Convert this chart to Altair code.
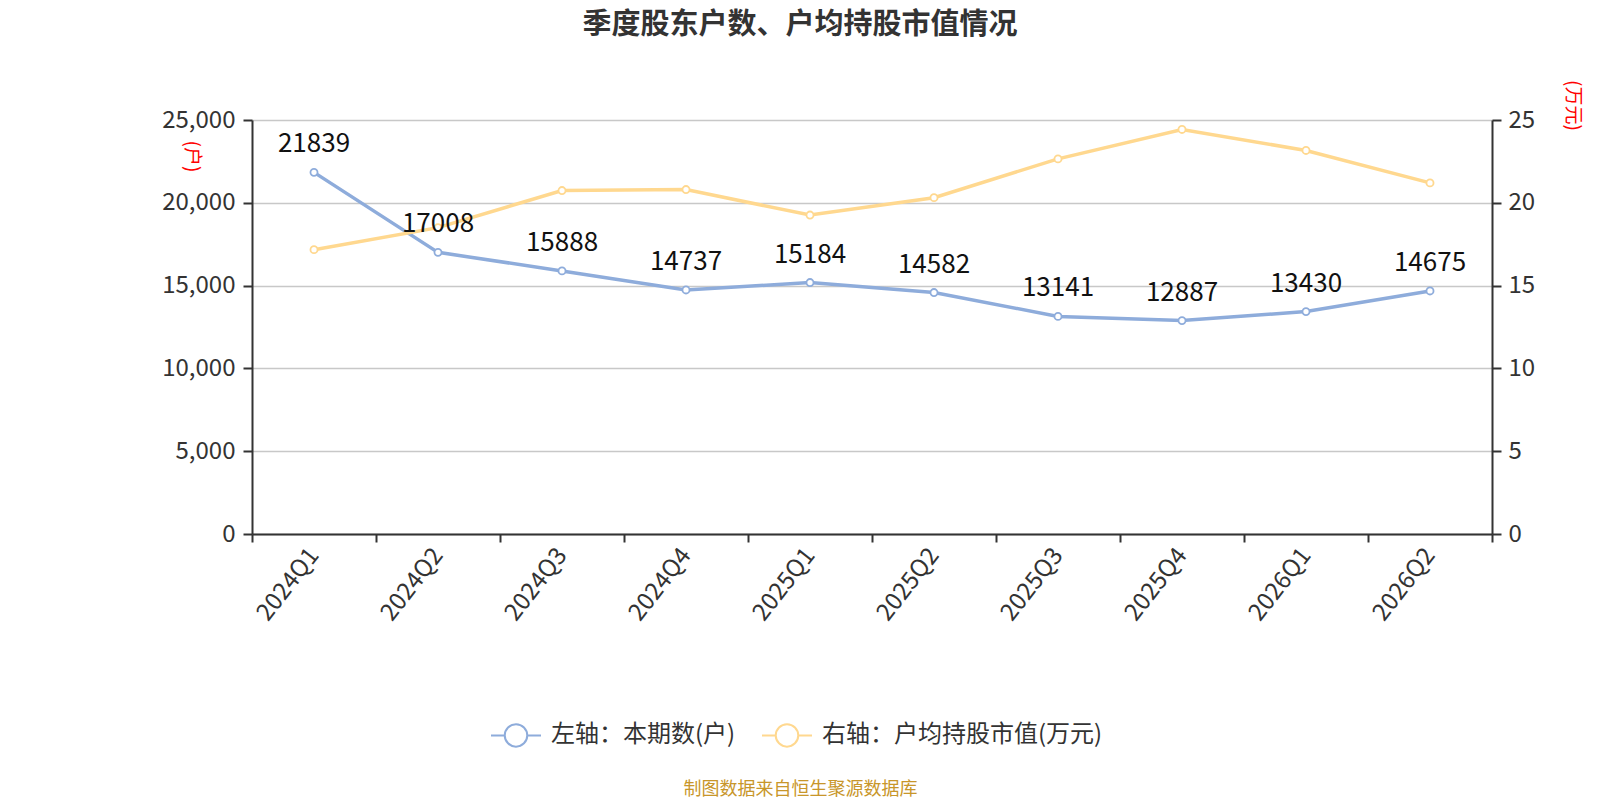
import altair as alt
import pandas as pd

quarters = ["2024Q1", "2024Q2", "2024Q3", "2024Q4", "2025Q1",
            "2025Q2", "2025Q3", "2025Q4", "2026Q1", "2026Q2"]
holders = [21839, 17008, 15888, 14737, 15184, 14582, 13141, 12887, 13430, 14675]
avg_value = [17.17, 18.5, 20.74, 20.8, 19.26, 20.31, 22.65, 24.43, 23.16, 21.2]

name_left = "左轴：本期数(户)"
name_right = "右轴：户均持股市值(万元)"
blue = "#8EACDB"
yellow = "#FFD88F"

df = pd.DataFrame({"q": quarters, "holders": holders, "avg": avg_value})

FONT = "Noto Sans CJK SC"

color_scale = alt.Scale(domain=[name_left, name_right], range=[blue, yellow])
legend = alt.Legend(
    title=None, orient="none", direction="horizontal",
    legendX=238, legendY=589,
    symbolType="M-1,0H-0.45M0.45,0H1M0.45,0A0.45,0.45,0,1,1,-0.45,0A0.45,0.45,0,1,1,0.45,0Z",
    symbolSize=2500, symbolStrokeWidth=2, symbolFillColor="white",
    labelFontSize=24, labelColor="#333", labelFont=FONT, labelOffset=9,
    labelLimit=500, columnPadding=22, padding=0,
)

x_enc = alt.X(
    "q:N", sort=quarters, bandPosition=0.5,
    scale=alt.Scale(type="band", paddingInner=0, paddingOuter=0),
    axis=alt.Axis(
        title="制图数据来自恒生聚源数据库", titleFontSize=18, titleColor="#C8962A",
        titleFontWeight="normal", titleFont=FONT, titleX=548, titleY=255,
        titleAlign="center", titleBaseline="middle", titleAngle=0,
        labelAngle=308, labelAlign="right", labelBaseline="middle",
        labelFontSize=24, labelColor="#333", labelFont=FONT, labelPadding=9,
        tickBand="extent", tickSize=8, tickColor="#333", tickWidth=2,
        domainColor="#333", domainWidth=2, grid=False,
    ),
)

y_left = alt.Y(
    "holders:Q",
    scale=alt.Scale(domain=[0, 25000], nice=False),
    axis=alt.Axis(
        title="(户)", titleColor="red", titleFontSize=19, titleFontWeight="normal",
        titleFont=FONT, titleAngle=90, titleX=-61, titleY=36,
        titleAlign="center", titleBaseline="middle",
        values=[0, 5000, 10000, 15000, 20000, 25000], format=",d",
        labelFontSize=24, labelColor="#333", labelFont=FONT, labelPadding=8,
        tickSize=9, tickColor="#333", tickWidth=2,
        domainColor="#333", domainWidth=2,
        grid=True, gridColor="#C8C8C8", gridWidth=1.5,
    ),
)

y_right = alt.Y(
    "avg:Q",
    scale=alt.Scale(domain=[0, 25], nice=False),
    axis=alt.Axis(
        orient="right",
        title="(万元)", titleColor="red", titleFontSize=19, titleFontWeight="normal",
        titleFont=FONT, titleAngle=90, titleX=80, titleY=-15,
        titleAlign="center", titleBaseline="middle",
        values=[0, 5, 10, 15, 20, 25], format="d",
        labelFontSize=24, labelColor="#333", labelFont=FONT, labelPadding=7,
        tickSize=9, tickColor="#333", tickWidth=2,
        domainColor="#333", domainWidth=2, grid=False,
    ),
)

base_l = alt.Chart(df).transform_calculate(series=f"'{name_left}'")
base_r = alt.Chart(df).transform_calculate(series=f"'{name_right}'")
col = alt.Color("series:N", scale=color_scale, legend=legend)

blue_line = base_l.mark_line(strokeWidth=3.5).encode(x=x_enc, y=y_left, color=col)
blue_pts = base_l.mark_point(filled=False, fill="white", size=50, strokeWidth=1.8, opacity=1).encode(
    x=x_enc, y=y_left, color=col)
left = alt.layer(blue_line, blue_pts)

yellow_line = base_r.mark_line(strokeWidth=3.5).encode(x=x_enc, y=y_right, color=col)
yellow_pts = base_r.mark_point(filled=False, fill="white", size=50, strokeWidth=1.8, opacity=1).encode(
    x=x_enc, y=y_right, color=col)
right = alt.layer(yellow_line, yellow_pts)

labels = alt.Chart(df).mark_text(dy=-28, fontSize=26, color="#111", font=FONT, baseline="middle").encode(
    x=x_enc,
    y=alt.Y("holders:Q", scale=alt.Scale(domain=[0, 25000], nice=False), axis=None),
    text=alt.Text("holders:Q", format="d"),
)

chart = alt.layer(left, right, labels).resolve_scale(y="independent").properties(
    width=1240, height=414,
    autosize=alt.AutoSizeParams(type="none"),
    padding={"left": 244, "top": 112, "right": 100, "bottom": 266},
    title=alt.TitleParams(
        "季度股东户数、户均持股市值情况", fontSize=29, fontWeight="bold",
        color="#333", font=FONT, anchor="middle", frame="group", dx=-72, offset=40,
    ),
).configure_view(stroke=None).configure(font=FONT)

chart.save("out.html", embed_options={"renderer": "svg", "actions": False})
